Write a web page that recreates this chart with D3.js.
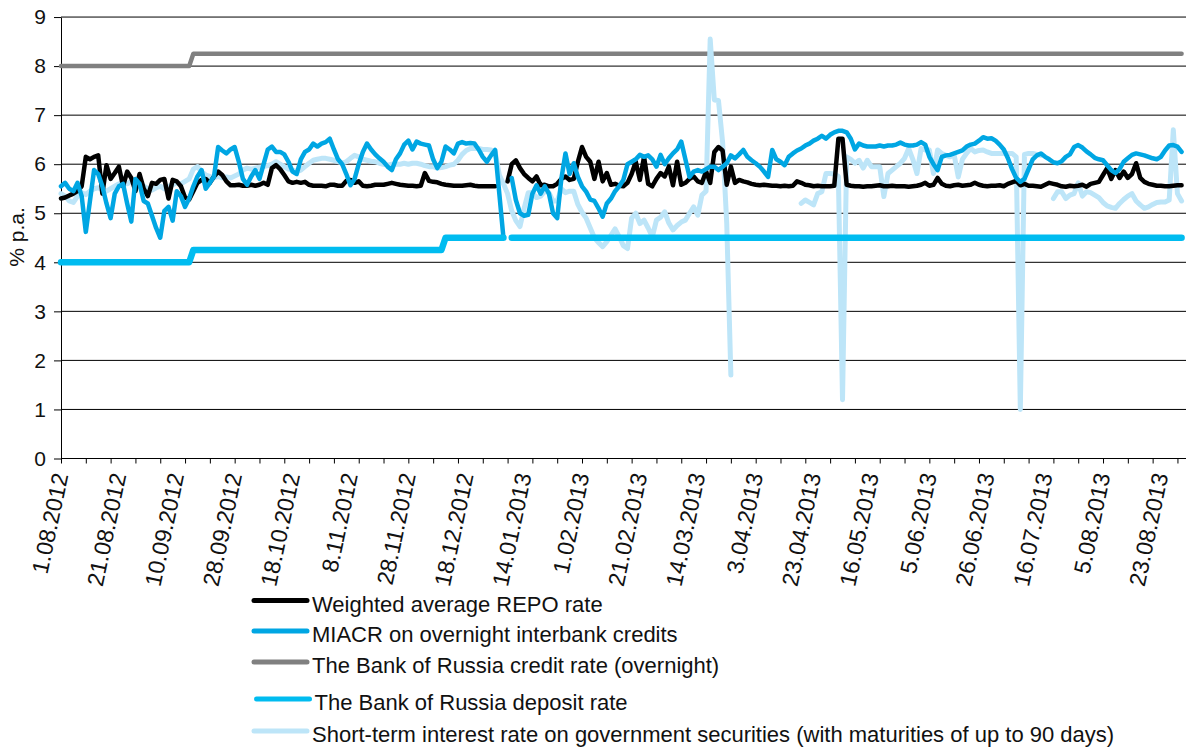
<!DOCTYPE html>
<html>
<head>
<meta charset="utf-8">
<script src="https://cdn.jsdelivr.net/npm/d3@7"></script>
<style>
  html, body { margin: 0; padding: 0; background: #fff; }
  svg { display: block; }
</style>
</head>
<body>
<svg id="chart" width="1186" height="749"></svg>
<script>
// *************** DATA ***************
const tickLabels = [
  "1.08.2012", "21.08.2012", "10.09.2012", "28.09.2012", "18.10.2012",
  "8.11.2012", "28.11.2012", "18.12.2012", "14.01.2013", "1.02.2013",
  "21.02.2013", "14.03.2013", "3.04.2013", "23.04.2013", "16.05.2013",
  "5.06.2013", "26.06.2013", "16.07.2013", "5.08.2013", "23.08.2013"
];

const yTicks = [0, 1, 2, 3, 4, 5, 6, 7, 8, 9];

const repoRate = [
  5.30, 5.32, 5.36, 5.40, 5.45, 5.55, 6.15, 6.10, 6.15, 6.18,
  5.40, 5.98, 5.70, 5.82, 5.95, 5.55, 5.85, 5.72, 5.45, 5.80,
  5.50, 5.35, 5.62, 5.60, 5.68, 5.70, 5.30, 5.68, 5.65, 5.55,
  5.32, 5.28, 5.45, 5.62, 5.68, 5.70, 5.62, 5.75, 5.85, 5.78,
  5.65, 5.57, 5.57, 5.58, 5.56, 5.56, 5.58, 5.56, 5.58, 5.62,
  5.58, 5.92, 5.98, 5.90, 5.78, 5.65, 5.62, 5.64, 5.62, 5.64,
  5.58, 5.56, 5.56, 5.56, 5.55, 5.58, 5.58, 5.56, 5.56, 5.66,
  5.68, 5.62, 5.65, 5.56, 5.55, 5.56, 5.58, 5.58, 5.58, 5.60,
  5.62, 5.60, 5.58, 5.57, 5.56, 5.56, 5.55, 5.56, 5.82, 5.66,
  5.64, 5.63, 5.60, 5.58, 5.57, 5.56, 5.56, 5.56, 5.57, 5.58,
  5.56, 5.55, 5.55, 5.55, 5.55, 5.55, null, null, 5.65, 6.00,
  6.08, 5.92, 5.80, 5.72, 5.65, 5.75, 5.57, 5.58, 5.55, 5.55,
  5.60, 5.70, 5.75, 5.68, 5.70, 6.05, 6.35, 6.15, 6.05, 5.70,
  6.05, 5.65, 5.82, 5.58, 5.60, 5.56, 5.55, 5.62, 5.80, 6.05,
  5.68, 6.15, 5.60, 5.55, 5.70, 5.82, 5.75, 5.95, 5.57, 6.05,
  5.58, 5.62, 5.70, 5.75, 5.65, 5.62, 5.85, 5.62, 6.25, 6.35,
  6.28, 5.58, 5.95, 5.62, 5.68, 5.65, 5.63, 5.60, 5.58, 5.57,
  5.58, 5.57, 5.56, 5.56, 5.55, 5.56, 5.55, 5.56, 5.65, 5.62,
  5.58, 5.57, 5.55, 5.56, 5.55, 5.55, 5.55, 5.56, 6.52, 6.52,
  5.58, 5.56, 5.55, 5.55, 5.54, 5.55, 5.55, 5.56, 5.57, 5.55,
  5.55, 5.56, 5.55, 5.55, 5.55, 5.54, 5.55, 5.56, 5.58, 5.62,
  5.56, 5.58, 5.72, 5.60, 5.56, 5.55, 5.57, 5.58, 5.56, 5.57,
  5.58, 5.62, 5.58, 5.56, 5.55, 5.56, 5.56, 5.57, 5.55, 5.60,
  5.63, 5.66, 5.57, 5.60, 5.56, 5.56, 5.55, 5.54, 5.58, 5.62,
  5.60, 5.58, 5.55, 5.54, 5.56, 5.55, 5.56, 5.58, 5.54, 5.60,
  5.62, 5.64, 5.78, 5.92, 5.70, 5.88, 5.72, 5.85, 5.72, 5.80,
  6.02, 5.72, 5.64, 5.60, 5.58, 5.56, 5.56, 5.55, 5.55, 5.56,
  5.57, 5.57
];

const miacr = [
  5.55, 5.62, 5.50, 5.45, 5.62, 5.35, 4.62, 5.25, 5.88, 5.80,
  5.55, 5.20, 4.90, 5.40, 5.55, 5.60, 5.20, 4.83, 5.70, 5.60,
  5.25, 5.20, 4.95, 4.70, 4.50, 5.05, 5.13, 4.85, 5.45, 5.35,
  5.13, 5.30, 5.55, 5.75, 5.88, 5.50, 5.62, 5.75, 6.35, 6.28,
  6.22, 6.30, 6.35, 6.05, 5.70, 5.58, 5.75, 5.88, 5.70, 6.00,
  6.30, 6.36, 6.25, 6.25, 6.20, 6.05, 5.85, 5.80, 6.10, 6.25,
  6.30, 6.42, 6.36, 6.42, 6.45, 6.52, 6.30, 6.10, 6.00, 5.80,
  5.57, 5.70, 6.00, 6.25, 6.42, 6.30, 6.20, 6.12, 6.05, 5.95,
  5.88, 6.10, 6.22, 6.40, 6.48, 6.30, 6.46, 6.42, 6.40, 6.38,
  6.10, 5.92, 6.05, 6.36, 6.30, 6.22, 6.42, 6.45, 6.42, 6.43,
  6.42, 6.30, 6.15, 6.05, 6.18, 6.29, 5.40, 4.50, null, 5.72,
  5.27, 5.00, 4.95, 4.97, 5.40, 5.57, 5.40, 5.55, 5.40, 5.00,
  4.90, 5.70, 6.22, 5.80, 6.02, 5.74, 5.55, 5.44, 5.28, 5.25,
  5.10, 4.93, 5.20, 5.30, 5.45, 5.55, 5.68, 6.00, 6.05, 6.10,
  6.19, 6.15, 6.18, 6.10, 5.95, 6.19, 6.00, 6.12, 6.22, 6.30,
  6.46, 6.10, 5.74, 5.85, 5.88, 5.85, 5.90, 5.95, 5.95, 5.88,
  5.95, 6.02, 6.18, 6.12, 6.20, 6.29, 6.15, 6.08, 6.02, 5.95,
  5.85, 5.74, 6.29, 6.10, 6.05, 5.98, 6.15, 6.22, 6.28, 6.32,
  6.38, 6.42, 6.48, 6.52, 6.58, 6.52, 6.60, 6.65, 6.68, 6.68,
  6.65, 6.52, 6.30, 6.42, 6.38, 6.36, 6.36, 6.36, 6.38, 6.36,
  6.38, 6.38, 6.40, 6.44, 6.40, 6.38, 6.38, 6.40, 6.45, 6.40,
  6.15, 6.00, 5.88, 6.15, 6.18, 6.19, 6.22, 6.25, 6.28, 6.36,
  6.40, 6.42, 6.48, 6.55, 6.52, 6.53, 6.48, 6.40, 6.30, 6.12,
  5.90, 5.72, 5.64, 5.70, 5.90, 6.10, 6.18, 6.22, 6.15, 6.10,
  6.04, 6.02, 6.06, 6.15, 6.20, 6.35, 6.39, 6.34, 6.26, 6.20,
  6.13, 6.10, 6.08, 5.98, 5.88, 5.82, 5.90, 6.05, 6.12, 6.19,
  6.22, 6.20, 6.18, 6.15, 6.12, 6.10, 6.15, 6.28, 6.38, 6.39,
  6.36, 6.25
];

const creditRate = [
  8, 8, 8, 8, 8, 8, 8, 8, 8, 8,
  8, 8, 8, 8, 8, 8, 8, 8, 8, 8,
  8, 8, 8, 8, 8, 8, 8, 8, 8, 8,
  8, 8, 8.25, 8.25, 8.25, 8.25, 8.25, 8.25, 8.25, 8.25,
  8.25, 8.25, 8.25, 8.25, 8.25, 8.25, 8.25, 8.25, 8.25, 8.25,
  8.25, 8.25, 8.25, 8.25, 8.25, 8.25, 8.25, 8.25, 8.25, 8.25,
  8.25, 8.25, 8.25, 8.25, 8.25, 8.25, 8.25, 8.25, 8.25, 8.25,
  8.25, 8.25, 8.25, 8.25, 8.25, 8.25, 8.25, 8.25, 8.25, 8.25,
  8.25, 8.25, 8.25, 8.25, 8.25, 8.25, 8.25, 8.25, 8.25, 8.25,
  8.25, 8.25, 8.25, 8.25, 8.25, 8.25, 8.25, 8.25, 8.25, 8.25,
  8.25, 8.25, 8.25, 8.25, 8.25, 8.25, 8.25, 8.25, 8.25, 8.25,
  8.25, 8.25, 8.25, 8.25, 8.25, 8.25, 8.25, 8.25, 8.25, 8.25,
  8.25, 8.25, 8.25, 8.25, 8.25, 8.25, 8.25, 8.25, 8.25, 8.25,
  8.25, 8.25, 8.25, 8.25, 8.25, 8.25, 8.25, 8.25, 8.25, 8.25,
  8.25, 8.25, 8.25, 8.25, 8.25, 8.25, 8.25, 8.25, 8.25, 8.25,
  8.25, 8.25, 8.25, 8.25, 8.25, 8.25, 8.25, 8.25, 8.25, 8.25,
  8.25, 8.25, 8.25, 8.25, 8.25, 8.25, 8.25, 8.25, 8.25, 8.25,
  8.25, 8.25, 8.25, 8.25, 8.25, 8.25, 8.25, 8.25, 8.25, 8.25,
  8.25, 8.25, 8.25, 8.25, 8.25, 8.25, 8.25, 8.25, 8.25, 8.25,
  8.25, 8.25, 8.25, 8.25, 8.25, 8.25, 8.25, 8.25, 8.25, 8.25,
  8.25, 8.25, 8.25, 8.25, 8.25, 8.25, 8.25, 8.25, 8.25, 8.25,
  8.25, 8.25, 8.25, 8.25, 8.25, 8.25, 8.25, 8.25, 8.25, 8.25,
  8.25, 8.25, 8.25, 8.25, 8.25, 8.25, 8.25, 8.25, 8.25, 8.25,
  8.25, 8.25, 8.25, 8.25, 8.25, 8.25, 8.25, 8.25, 8.25, 8.25,
  8.25, 8.25, 8.25, 8.25, 8.25, 8.25, 8.25, 8.25, 8.25, 8.25,
  8.25, 8.25, 8.25, 8.25, 8.25, 8.25, 8.25, 8.25, 8.25, 8.25,
  8.25, 8.25, 8.25, 8.25, 8.25, 8.25, 8.25, 8.25, 8.25, 8.25,
  8.25, 8.25
];

const depositRate = [
  4, 4, 4, 4, 4, 4, 4, 4, 4, 4,
  4, 4, 4, 4, 4, 4, 4, 4, 4, 4,
  4, 4, 4, 4, 4, 4, 4, 4, 4, 4,
  4, 4, 4.25, 4.25, 4.25, 4.25, 4.25, 4.25, 4.25, 4.25,
  4.25, 4.25, 4.25, 4.25, 4.25, 4.25, 4.25, 4.25, 4.25, 4.25,
  4.25, 4.25, 4.25, 4.25, 4.25, 4.25, 4.25, 4.25, 4.25, 4.25,
  4.25, 4.25, 4.25, 4.25, 4.25, 4.25, 4.25, 4.25, 4.25, 4.25,
  4.25, 4.25, 4.25, 4.25, 4.25, 4.25, 4.25, 4.25, 4.25, 4.25,
  4.25, 4.25, 4.25, 4.25, 4.25, 4.25, 4.25, 4.25, 4.25, 4.25,
  4.25, 4.25, 4.25, 4.5, 4.5, 4.5, 4.5, 4.5, 4.5, 4.5,
  4.5, 4.5, 4.5, 4.5, 4.5, 4.5, 4.5, 4.5, null, 4.5,
  4.5, 4.5, 4.5, 4.5, 4.5, 4.5, 4.5, 4.5, 4.5, 4.5,
  4.5, 4.5, 4.5, 4.5, 4.5, 4.5, 4.5, 4.5, 4.5, 4.5,
  4.5, 4.5, 4.5, 4.5, 4.5, 4.5, 4.5, 4.5, 4.5, 4.5,
  4.5, 4.5, 4.5, 4.5, 4.5, 4.5, 4.5, 4.5, 4.5, 4.5,
  4.5, 4.5, 4.5, 4.5, 4.5, 4.5, 4.5, 4.5, 4.5, 4.5,
  4.5, 4.5, 4.5, 4.5, 4.5, 4.5, 4.5, 4.5, 4.5, 4.5,
  4.5, 4.5, 4.5, 4.5, 4.5, 4.5, 4.5, 4.5, 4.5, 4.5,
  4.5, 4.5, 4.5, 4.5, 4.5, 4.5, 4.5, 4.5, 4.5, 4.5,
  4.5, 4.5, 4.5, 4.5, 4.5, 4.5, 4.5, 4.5, 4.5, 4.5,
  4.5, 4.5, 4.5, 4.5, 4.5, 4.5, 4.5, 4.5, 4.5, 4.5,
  4.5, 4.5, 4.5, 4.5, 4.5, 4.5, 4.5, 4.5, 4.5, 4.5,
  4.5, 4.5, 4.5, 4.5, 4.5, 4.5, 4.5, 4.5, 4.5, 4.5,
  4.5, 4.5, 4.5, 4.5, 4.5, 4.5, 4.5, 4.5, 4.5, 4.5,
  4.5, 4.5, 4.5, 4.5, 4.5, 4.5, 4.5, 4.5, 4.5, 4.5,
  4.5, 4.5, 4.5, 4.5, 4.5, 4.5, 4.5, 4.5, 4.5, 4.5,
  4.5, 4.5, 4.5, 4.5, 4.5, 4.5, 4.5, 4.5, 4.5, 4.5,
  4.5, 4.5
];

const shortTermRate = [
  5.40, 5.35, 5.25, 5.22, 5.35, 5.42, 5.38, 5.45, 5.50, 5.52,
  5.48, 5.45, 5.50, 5.55, 5.60, 5.62, 5.60, 5.65, 5.68, 5.62,
  5.55, 5.50, 5.47, 5.52, 5.55, 5.50, 5.55, 5.58, 5.62, 5.60,
  5.65, 5.70, 5.90, 5.95, 5.85, 5.78, 5.75, 5.72, 5.75, 5.72,
  5.74, 5.72, 5.76, 5.80, 5.88, 5.92, 5.90, 5.92, 5.94, 5.95,
  5.97, 6.00, 6.05, 6.00, 5.95, 5.90, 5.88, 5.85, 5.88, 5.95,
  6.02, 6.08, 6.10, 6.12, 6.12, 6.10, 6.08, 6.05, 6.02, 6.05,
  6.12, 6.18, 6.15, 6.10, 6.08, 6.06, 6.05, 6.02, 6.00, 5.98,
  6.00, 6.00, 6.00, 6.02, 6.00, 6.02, 6.02, 6.00, 5.97, 5.95,
  5.95, 5.92, 5.93, 5.95, 5.98, 6.00, 6.08, 6.20, 6.28, 6.32,
  6.32, 6.32, 6.30, 6.30, 6.29, 6.25, 5.78, 5.60, 5.40, 5.05,
  4.85, 4.73, 5.10, 5.42, 5.42, 5.32, 5.35, 5.45, 5.42, 5.25,
  5.25, 5.50, 5.42, 5.45, 5.45, 5.18, 5.02, 4.90, 4.70, 4.50,
  4.40, 4.32, 4.42, 4.55, 4.68, 4.52, 4.34, 4.28, 4.90, 5.00,
  4.79, 4.86, 4.70, 4.52, 4.86, 4.92, 5.03, 4.80, 4.66, 4.75,
  4.82, 4.86, 5.00, 5.13, 4.96, 5.37, 5.45, 8.55, 7.31, 7.30,
  6.45, 4.80, 1.70, null, null, null, null, null, null, null,
  null, null, null, null, null, null, null, null, null, 5.20,
  5.27, 5.22, 5.17, 5.40, 5.44, 5.81, 5.81, 5.80, 5.75, 1.20,
  6.15, 6.10, 6.02, 6.08, 5.92, 6.08, 5.95, 5.95, 5.95, 5.34,
  5.81, 5.88, 5.95, 6.02, 6.12, 6.32, 6.10, 5.81, 6.32, 6.29,
  6.29, 5.81, 6.29, 6.22, 6.18, 6.15, 6.19, 5.74, 6.10, 6.22,
  6.32, 6.25, 6.28, 6.29, 6.25, 6.22, 6.22, 6.22, 6.22, 6.22,
  6.22, 6.15, 1.00, 6.20, 6.22, 6.22, 6.20, 6.18, null, null,
  5.30, 5.44, 5.44, 5.30, 5.37, 5.40, 5.62, 5.35, 5.44, 5.42,
  5.37, 5.32, 5.22, 5.15, 5.12, 5.10, 5.20, 5.28, 5.35, 5.40,
  5.25, 5.17, 5.10, 5.13, 5.18, 5.22, 5.23, 5.23, 5.27, 6.70,
  5.40, 5.25
];

const seriesNames = [
  "Weighted average REPO rate",
  "MIACR on overnight interbank credits",
  "The Bank of Russia credit rate (overnight)",
  "The Bank of Russia deposit rate",
  "Short-term interest rate on government securities (with maturities of up to 90 days)"
];

// *************** CONSTANTS ***************
const width = 1186,
      height = 749;

const font = "'Liberation Sans', Arial, Helvetica, sans-serif";

const svg = d3.select("#chart")
              .attr("viewBox", `0 0 ${width} ${height}`)
              .style("font-family", font);

const plotLeft = 61,
      pointStep = 4.135,
      labelEvery = 14,
      tickEvery = 6;

const x = d3.scaleLinear()
            .domain([0, repoRate.length - 1])
            .range([plotLeft, plotLeft + (repoRate.length - 1) * pointStep]);

const y = d3.scaleLinear()
            .domain([0, 9])
            .range([458.5, 17.05]);

// drawing order differs from legend order (pale line under the others)
const series = [
  { values: creditRate,    color: "#808080", width: 4.5, legend: 2 },
  { values: shortTermRate, color: "#bde5f8", width: 5,   legend: 4 },
  { values: repoRate,      color: "#000000", width: 4.5, legend: 0 },
  { values: miacr,         color: "#00a6e3", width: 4.5, legend: 1 },
  { values: depositRate,   color: "#00bcf0", width: 6.5, legend: 3 }
];

// *************** GRID & AXES ***************
svg.append("g")
   .selectAll("line")
   .data(yTicks)
   .join("line")
   .attr("x1", plotLeft)
   .attr("x2", width)
   .attr("y1", d => y(d))
   .attr("y2", d => y(d))
   .attr("stroke", "#000")
   .attr("stroke-width", 1);

const yAxis = svg.append("g")
                 .attr("transform", `translate(${plotLeft},0)`)
                 .call(d3.axisLeft(y)
                         .tickValues(yTicks)
                         .tickSize(7)
                         .tickSizeOuter(0)
                         .tickPadding(8));

yAxis.attr("font-family", font)
     .attr("font-size", 21);
yAxis.selectAll("text").attr("fill", "#111");

const xTicks = svg.append("g")
                  .attr("transform", `translate(0,${y(0)})`)
                  .call(d3.axisBottom(x)
                          .tickValues(d3.range(0, repoRate.length, tickEvery))
                          .tickSize(5)
                          .tickSizeOuter(0)
                          .tickFormat(""));
xTicks.select(".domain").remove();

const xLabels = svg.append("g")
                   .attr("transform", `translate(0,${y(0)})`)
                   .call(d3.axisBottom(x)
                           .tickValues(tickLabels.map((d, i) => i * labelEvery))
                           .tickSize(0)
                           .tickFormat((d, i) => tickLabels[i]));

xLabels.select(".domain").remove();
xLabels.attr("font-family", font)
       .attr("font-size", 23);
xLabels.selectAll("text")
       .attr("x", 0)
       .attr("y", 0)
       .attr("dy", null)
       .attr("fill", "#111")
       .style("text-anchor", "end")
       .attr("transform", "translate(7,16.5) rotate(-78)");

svg.append("text")
   .attr("transform", "translate(24,237) rotate(-90)")
   .attr("text-anchor", "middle")
   .attr("font-size", 21)
   .attr("fill", "#111")
   .text("% p.a.");

// *************** LINES ***************
const line = d3.line()
               .defined(d => d != null)
               .x((d, i) => x(i))
               .y(d => y(d));

svg.append("g")
   .selectAll("path")
   .data(series)
   .join("path")
   .attr("d", d => line(d.values))
   .attr("fill", "none")
   .attr("stroke", d => d.color)
   .attr("stroke-width", d => d.width)
   .attr("stroke-linejoin", "round")
   .attr("stroke-linecap", "round");

// *************** LEGEND ***************
const legendRows = [600.5, 631, 662, 699, 731],
      legendShift = [0, 0, 0, 2.5, 0];

const legend = svg.append("g")
                  .selectAll("g")
                  .data(series.slice().sort((a, b) => a.legend - b.legend))
                  .join("g")
                  .attr("transform", d => `translate(${legendShift[d.legend]},${legendRows[d.legend]})`);

legend.append("line")
      .attr("x1", 254)
      .attr("x2", 307)
      .attr("stroke", d => d.color)
      .attr("stroke-width", 5)
      .attr("stroke-linecap", "round");

legend.append("text")
      .attr("x", 312)
      .attr("y", 11)
      .attr("font-size", 22)
      .attr("fill", "#111")
      .text(d => seriesNames[d.legend]);
</script>
</body>
</html>
